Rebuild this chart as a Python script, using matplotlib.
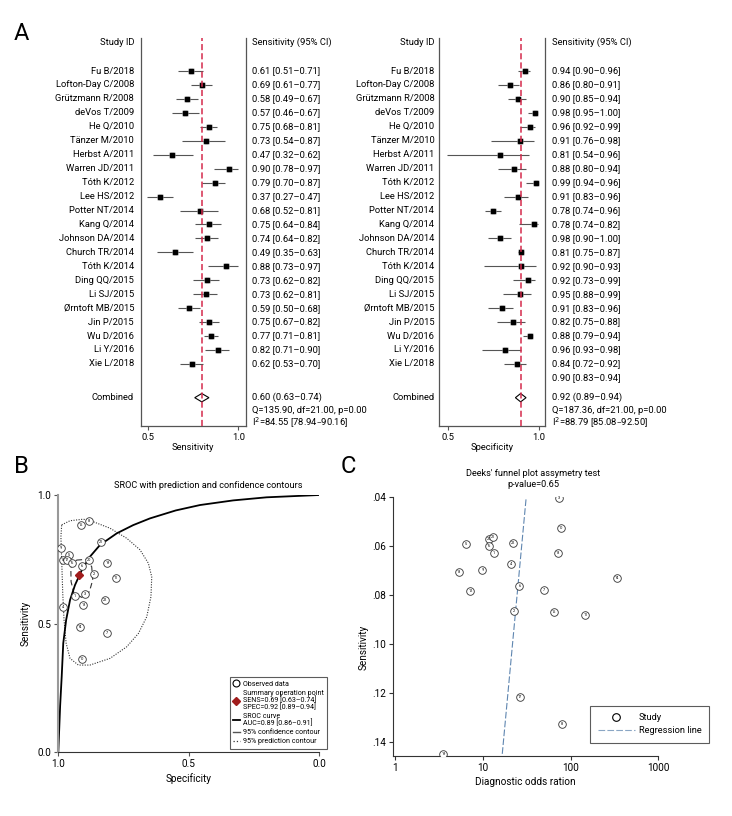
import numpy as np
import matplotlib
matplotlib.use("Agg")
import matplotlib.pyplot as plt
import matplotlib.font_manager as fm
from matplotlib.font_manager import FontProperties
from matplotlib.textpath import TextPath
from matplotlib.lines import Line2D
from matplotlib.transforms import blended_transform_factory

W, H = 732, 816

avail = {f.name for f in fm.fontManager.ttflist}
FAMILY = None
for cand in ['Liberation Sans Narrow', 'Roboto', 'Liberation Sans', 'DejaVu Sans']:
    if cand in avail:
        FAMILY = cand
        break
plt.rcParams['font.family'] = [FAMILY, 'DejaVu Sans']


def fs_for(text, px):
    # font size (pt) that makes `text` about px pixels wide
    w = TextPath((0, 0), text, size=10, prop=FontProperties(family=FAMILY)).get_extents().width
    return 10 * px / (w * 100 / 72)


FS = fs_for("Lofton-Day C/2008", 78)

# ---------------- data: forest plots ----------------
studies = ["Fu B/2018", "Lofton-Day C/2008", "Grützmann R/2008", "deVos T/2009",
           "He Q/2010", "Tänzer M/2010", "Herbst A/2011", "Warren JD/2011",
           "Tóth K/2012", "Lee HS/2012", "Potter NT/2014", "Kang Q/2014",
           "Johnson DA/2014", "Church TR/2014", "Tóth K/2014", "Ding QQ/2015",
           "Li SJ/2015", "Ørntoft MB/2015", "Jin P/2015", "Wu D/2016",
           "Li Y/2016", "Xie L/2018"]

sens_text = ["0.61 [0.51–0.71]", "0.69 [0.61–0.77]", "0.58 [0.49–0.67]", "0.57 [0.46–0.67]",
             "0.75 [0.68–0.81]", "0.73 [0.54–0.87]", "0.47 [0.32–0.62]", "0.90 [0.78–0.97]",
             "0.79 [0.70–0.87]", "0.37 [0.27–0.47]", "0.68 [0.52–0.81]", "0.75 [0.64–0.84]",
             "0.74 [0.64–0.82]", "0.49 [0.35–0.63]", "0.88 [0.73–0.97]", "0.73 [0.62–0.82]",
             "0.73 [0.62–0.81]", "0.59 [0.50–0.68]", "0.75 [0.67–0.82]", "0.77 [0.71–0.81]",
             "0.82 [0.71–0.90]", "0.62 [0.53–0.70]"]
spec_text = ["0.94 [0.90–0.96]", "0.86 [0.80–0.91]", "0.90 [0.85–0.94]", "0.98 [0.95–1.00]",
             "0.96 [0.92–0.99]", "0.91 [0.76–0.98]", "0.81 [0.54–0.96]", "0.88 [0.80–0.94]",
             "0.99 [0.94–0.96]", "0.91 [0.83–0.96]", "0.78 [0.74–0.96]", "0.78 [0.74–0.82]",
             "0.98 [0.90–1.00]", "0.81 [0.75–0.87]", "0.92 [0.90–0.93]", "0.92 [0.73–0.99]",
             "0.95 [0.88–0.99]", "0.91 [0.83–0.96]", "0.82 [0.75–0.88]", "0.88 [0.79–0.94]",
             "0.96 [0.93–0.98]", "0.84 [0.72–0.92]", "0.90 [0.83–0.94]"]

sens_est = [0.737, 0.797, 0.717, 0.706, 0.839, 0.822, 0.633, 0.948, 0.872, 0.563, 0.789,
            0.839, 0.828, 0.650, 0.933, 0.826, 0.822, 0.724, 0.837, 0.850, 0.889, 0.744]
sens_lo = [0.663, 0.735, 0.652, 0.632, 0.789, 0.689, 0.524, 0.863, 0.800, 0.494, 0.676,
           0.761, 0.761, 0.550, 0.830, 0.750, 0.747, 0.663, 0.780, 0.809, 0.813, 0.676]
sens_hi = [0.806, 0.852, 0.778, 0.782, 0.882, 0.926, 0.747, 0.997, 0.926, 0.636, 0.886,
           0.904, 0.886, 0.750, 0.998, 0.893, 0.883, 0.789, 0.891, 0.887, 0.948, 0.802]
sens_pool = [0.758, 0.797, 0.837]
sens_comb = ["0.60 (0.63–0.74)", "Q=135.90, df=21.00, p=0.00", "I$^2$=84.55 [78.94–90.16]"]

spec_est = [0.926, 0.841, 0.886, 0.978, 0.954, 0.897, 0.786, 0.865, 0.984, 0.886, 0.749,
            0.976, 0.788, 0.900, 0.902, 0.939, 0.895, 0.795, 0.860, 0.950, 0.814, 0.880]
spec_lo = [0.884, 0.777, 0.829, 0.943, 0.898, 0.735, 0.493, 0.777, 0.932, 0.808, 0.705,
           0.890, 0.721, 0.886, 0.698, 0.860, 0.803, 0.721, 0.768, 0.915, 0.685, 0.808]
spec_hi = [0.952, 0.893, 0.930, 0.991, 0.978, 0.973, 0.948, 0.930, 0.998, 0.943, 0.793,
           0.996, 0.845, 0.915, 0.984, 0.978, 0.956, 0.858, 0.926, 0.963, 0.902, 0.932]
spec_pool = [0.871, 0.900, 0.930]
spec_comb = ["0.92 (0.89–0.94)", "Q=187.36, df=21.00, p=0.00", "I$^2$=88.79 [85.08–92.50]"]

# ---------------- data: SROC ----------------
obs_spec = [0.914, 0.882, 0.838, 0.990, 0.958, 0.983, 0.966, 0.949, 0.881, 0.910, 0.812,
            0.862, 0.779, 0.936, 0.898, 0.904, 0.821, 0.983, 0.917, 0.815, 0.908]
obs_sens = [0.884, 0.899, 0.818, 0.793, 0.767, 0.748, 0.748, 0.735, 0.748, 0.725, 0.735,
            0.692, 0.679, 0.609, 0.614, 0.572, 0.592, 0.564, 0.486, 0.462, 0.361]
obs_id = [15, 8, 21, 9, 5, 13, 17, 16, 20, 6, 19, 2, 11, 1, 3, 18, 22, 4, 14, 7, 10]
sum_spec, sum_sens = 0.92, 0.69

sroc_spec = [1.0, 0.993, 0.987, 0.981, 0.970, 0.955, 0.936, 0.910, 0.879, 0.840, 0.776,
             0.713, 0.649, 0.55, 0.457, 0.33, 0.202, 0.0]
sroc_sens = [0.0, 0.18, 0.294, 0.424, 0.514, 0.592, 0.650, 0.708, 0.760, 0.806, 0.851,
             0.883, 0.909, 0.94, 0.961, 0.979, 0.991, 1.0]

pred_spec = [0.987, 0.955, 0.904, 0.866, 0.802, 0.738, 0.687, 0.655, 0.642, 0.645, 0.661,
             0.693, 0.738, 0.802, 0.879, 0.923, 0.955, 0.970, 0.978, 0.983, 0.987, 0.990, 0.987]
pred_sens = [0.884, 0.900, 0.906, 0.896, 0.871, 0.832, 0.787, 0.735, 0.682, 0.605, 0.527,
             0.462, 0.410, 0.365, 0.339, 0.339, 0.365, 0.424, 0.514, 0.618, 0.747, 0.838, 0.884]

conf_spec = [0.930, 0.891, 0.872, 0.868, 0.881, 0.910, 0.940, 0.951, 0.952, 0.945, 0.930]
conf_sens = [0.747, 0.750, 0.721, 0.670, 0.624, 0.602, 0.618, 0.663, 0.715, 0.737, 0.747]

# ---------------- data: Deeks funnel ----------------
dor = [74.4, 77.6, 6.36, 11.9, 13.2, 11.7, 13.4, 22.3, 71.2, 20.8, 5.34, 9.9, 339, 26.1,
       49.7, 7.25, 22.5, 65.3, 148, 26.5, 79.7, 3.57]
inv_ess = [0.0404, 0.0526, 0.0595, 0.0571, 0.0566, 0.0601, 0.0631, 0.0588, 0.0628, 0.0673,
           0.0706, 0.0698, 0.0730, 0.0763, 0.0779, 0.0785, 0.0866, 0.0870, 0.0884, 0.1217,
           0.1329, 0.1451]
deeks_id = [3, 10, 5, 20, 21, 16, 1, 22, 18, 4, 13, 9, 14, 6, 7, 12, 2, 15, 11, 17, 8, 19]
reg_dor = [31.1, 16.6]
reg_y = [0.0411, 0.1458]


def rect(x0, y0, x1, y1):
    return [x0 / W, 1 - y1 / H, (x1 - x0) / W, (y1 - y0) / H]


fig = plt.figure(figsize=(W / 100, H / 100), dpi=100)
fig.patch.set_facecolor('white')

RED = '#d42a4c'
R_COMB = 23.42


def forest(ax, est, lo, hi, pool, names, texts, comb, name_x, text_x, xlim, xlabel):
    rows = np.arange(len(est))
    ax.hlines(rows, lo, hi, color='#555555', lw=0.8, zorder=2)
    ax.plot(est, rows, 's', ms=5, color='#b0b0b0', mec='none', zorder=3)
    ax.plot(est, rows, 's', ms=2.3, color='black', zorder=4)
    ax.fill([pool[0], pool[1], pool[2], pool[1]],
            [R_COMB, R_COMB - 0.3, R_COMB, R_COMB + 0.3],
            facecolor='white', edgecolor='black', lw=0.8, zorder=2)
    ax.axvline(pool[1], color=RED, ls=(0, (4, 2)), lw=1.1, zorder=5)
    ax.set_xlim(*xlim)
    ax.set_ylim(25.45, -2.39)
    ax.set_yticks([])
    ax.set_xticks([0.5, 1.0])
    ax.set_xticklabels(['0.5', '1.0'])
    ax.tick_params(axis='x', length=3, width=0.8, labelsize=FS, pad=2, color='#555555')
    ax.spines['top'].set_visible(False)
    for s in ['left', 'right', 'bottom']:
        ax.spines[s].set_color('#555555')
        ax.spines[s].set_linewidth(0.9)
    ax.set_xlabel(xlabel, fontsize=FS, labelpad=1)
    tr = blended_transform_factory(fig.transFigure, ax.transData)
    ax.text(name_x / W, -2.08, "Study ID", transform=tr, ha='right', va='center', fontsize=FS)
    ax.text(text_x / W, -2.08, "Sensitivity (95% CI)", transform=tr, ha='left', va='center', fontsize=FS)
    for i, n in enumerate(names):
        ax.text(name_x / W, i, n, transform=tr, ha='right', va='center', fontsize=FS)
    for i, t in enumerate(texts):
        ax.text(text_x / W, i, t, transform=tr, ha='left', va='center', fontsize=FS)
    ax.text(name_x / W, R_COMB, "Combined", transform=tr, ha='right', va='center', fontsize=FS)
    for r, t in zip([R_COMB, 24.35, 25.25], comb):
        ax.text(text_x / W, r, t, transform=tr, ha='left', va='center', fontsize=FS)


axA1 = fig.add_axes(rect(140.7, 37.7, 245.7, 426))
forest(axA1, sens_est, sens_lo, sens_hi, sens_pool, studies, sens_text, sens_comb,
       134, 251.7, (0.458, 1.041), "Sensitivity")
axA2 = fig.add_axes(rect(439.3, 37.7, 545.3, 426))
forest(axA2, spec_est, spec_lo, spec_hi, spec_pool, studies, spec_text, spec_comb,
       434.3, 552.3, (0.450, 1.0365), "Specificity")

# ---------------- panel B: SROC ----------------
axB = fig.add_axes(rect(58.3, 495, 319.3, 752.3))
axB.plot(pred_spec, pred_sens, color='#333333', ls=(0, (1, 1.3)), lw=0.8)
axB.plot(conf_spec, conf_sens, color='#333333', ls=(0, (5, 3)), lw=0.8)
axB.plot(sroc_spec, sroc_sens, color='black', lw=1.3)
axB.scatter(obs_spec, obs_sens, s=30, facecolors='white', edgecolors='#333333', lw=0.6, zorder=4)
for x, y, n in zip(obs_spec, obs_sens, obs_id):
    axB.text(x, y, str(n), fontsize=2.8, ha='center', va='center', zorder=5)
axB.plot(sum_spec, sum_sens, 'D', color='#a01c1c', ms=4.5, zorder=6)
axB.set_xlim(1, 0)
axB.set_ylim(0, 1)
axB.set_xticks([1.0, 0.5, 0.0])
axB.set_xticklabels(['1.0', '0.5', '0.0'])
axB.set_yticks([0.0, 0.5, 1.0])
axB.set_yticklabels(['0.0', '0.5', '1.0'])
axB.tick_params(length=3, width=0.8, labelsize=FS + 0.4, pad=2, color='#555555')
axB.spines['top'].set_visible(False)
axB.spines['right'].set_visible(False)
axB.spines['left'].set_color('#999999')
axB.spines['left'].set_linewidth(1.5)
axB.spines['bottom'].set_color('#333333')
axB.set_xlabel("Specificity", fontsize=FS + 0.4, labelpad=3)
axB.set_ylabel("Sensitivity", fontsize=FS + 0.4)
axB.yaxis.set_label_coords(-0.105, 0.5)
axB.text(0.574, 1.036, "SROC with prediction and confidence contours",
         transform=axB.transAxes, ha='center', va='center',
         fontsize=fs_for("SROC with prediction and confidence contours", 187))

FSL = fs_for("95% confidence contour", 76)
handlesB = [Line2D([], [], marker='o', ls='none', mfc='white', mec='black', ms=5, mew=0.8),
            Line2D([], [], marker='D', ls='none', color='#a01c1c', ms=4),
            Line2D([], [], color='black', lw=1.3),
            Line2D([], [], color='#555555', lw=1.0),
            Line2D([], [], color='#333333', ls=':', lw=0.9)]
labelsB = ["Observed data",
           "Summary operation point\nSENS=0.69 [0.63–0.74]\nSPEC=0.92 [0.89–0.94]",
           "SROC curve\nAUC=0.89 [0.86–0.91]",
           "95% confidence contour",
           "95% prediction contour"]
legB = axB.legend(handlesB, labelsB, loc='lower right',
                  bbox_to_anchor=(327.3 / W, 1 - 749 / H), bbox_transform=fig.transFigure,
                  fontsize=FSL, frameon=True, fancybox=False, edgecolor='#333333',
                  handlelength=0.9, handletextpad=0.45, labelspacing=0.3, borderpad=0.5,
                  borderaxespad=0)
legB.get_frame().set_linewidth(0.8)
for t in legB.get_texts():
    t.set_linespacing(0.9)

# ---------------- panel C: Deeks funnel ----------------
axC = fig.add_axes(rect(392.7, 496.7, 658.3, 756))
axC.plot(reg_dor, reg_y, color='#5f86b0', ls=(0, (6, 2)), lw=0.8)
axC.scatter(dor, inv_ess, s=30, facecolors='white', edgecolors='#333333', lw=0.6, zorder=4)
for x, y, n in zip(dor, inv_ess, deeks_id):
    axC.text(x, y, str(n), fontsize=2.8, ha='center', va='center', zorder=5)
axC.set_xscale('log')
axC.set_xlim(0.942, 1000)
axC.set_ylim(0.1458, 0.04)
axC.set_xticks([1, 10, 100, 1000])
axC.set_xticklabels(['1', '10', '100', '1000'])
axC.minorticks_off()
axC.set_yticks([0.04, 0.06, 0.08, 0.10, 0.12, 0.14])
axC.set_yticklabels(['.04', '.06', '.08', '.10', '.12', '.14'])
axC.tick_params(length=3, width=0.8, labelsize=FS + 0.4, pad=2, color='#333333')
axC.spines['top'].set_visible(False)
axC.spines['right'].set_visible(False)
axC.spines['left'].set_color('#333333')
axC.spines['bottom'].set_color('#333333')
axC.set_xlabel("Diagnostic odds ration", fontsize=FS + 0.4, labelpad=3)
axC.set_ylabel("Sensitivity", fontsize=FS + 0.4)
axC.yaxis.set_label_coords(-0.09, 0.42)
FST = fs_for("Deeks' funnel plot assymetry test", 134)
axC.text(0.528, 1.069, "Deeks' funnel plot assymetry test\np-value=0.65",
         transform=axC.transAxes, ha='center', va='center', fontsize=FST, linespacing=1.3)

FSC = fs_for("Regression line", 62)
handlesC = [Line2D([], [], marker='o', ls='none', mfc='white', mec='black', ms=5.5, mew=0.8),
            Line2D([], [], color='#8aa6c4', ls=(0, (6, 2)), lw=0.8)]
legC = axC.legend(handlesC, ["Study", "Regression line"], loc='lower right',
                  bbox_to_anchor=(708.7 / W, 1 - 742.7 / H), bbox_transform=fig.transFigure,
                  fontsize=FSC, frameon=True, fancybox=False, edgecolor='#333333',
                  handlelength=4.0, handletextpad=0.4, labelspacing=0.45, borderpad=0.8,
                  borderaxespad=0)
legC.get_frame().set_linewidth(0.8)

# panel letters
fig.text(21.7 / W, 1 - 33 / H, "A", fontsize=17, ha='center', va='center')
fig.text(21.7 / W, 1 - 466.7 / H, "B", fontsize=17, ha='center', va='center')
fig.text(348 / W, 1 - 466.7 / H, "C", fontsize=17, ha='center', va='center')

fig.savefig("out.png", dpi=100)
